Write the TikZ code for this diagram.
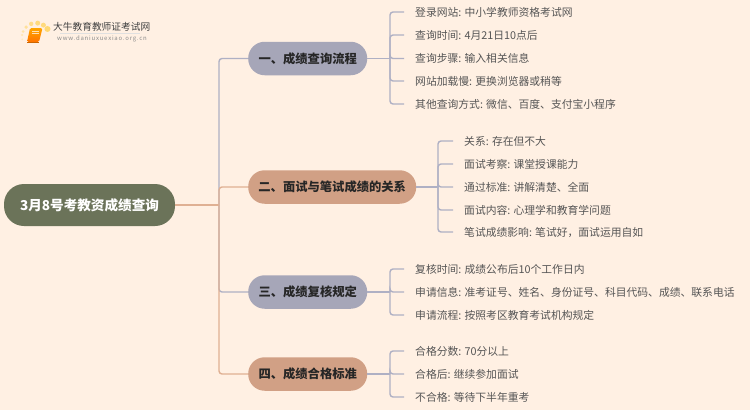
\documentclass[tikz,border=0pt]{standalone}
\usepackage{fontspec}
\setmainfont{Noto Sans CJK SC}
\definecolor{bgc}{HTML}{FFF0E3}
\definecolor{bluec}{HTML}{A6A6B8}
\definecolor{bluel}{HTML}{AFB0C4}
\definecolor{orc}{HTML}{D1A085}
\definecolor{orl}{HTML}{DFB093}
\definecolor{rootc}{HTML}{6B7359}
\definecolor{leaft}{HTML}{555555}
\definecolor{sunc}{HTML}{FFD873}
\tikzset{
 rootbox/.style={fill=rootc,rounded corners=20pt,text=white,font=\fontsize{13.6}{16}\selectfont\bfseries,minimum width=171pt,minimum height=42pt,inner sep=0pt},
 branchbox/.style={rounded corners=16.5pt,text=black!85,font=\fontsize{12.3}{15}\selectfont\bfseries,minimum height=33.5pt,inner sep=0pt,anchor=west},
 blueb/.style={branchbox,fill=bluec},
 orb/.style={branchbox,fill=orc},
 leaf/.style={anchor=west,text=leaft,font=\fontsize{10.8}{13}\selectfont,inner ysep=0pt,inner xsep=0pt,text height=9.5pt,text depth=1.5pt},
 bl/.style={draw=bluel,line width=1.4pt,rounded corners=3pt},
 ol/.style={draw=orl,line width=1.4pt,rounded corners=3pt},
}
\begin{document}
\begin{tikzpicture}[x=1pt,y=-1pt]
\path[fill=bgc] (0,0) rectangle (750,410);
\useasboundingbox (0,0) rectangle (750,410);
% logo
\foreach \a/\r/\c in {190/1/.3,172/1.2/.4,157/1.5/.5,135/1.8/.65,110/2.2/.8,83/2.5/.9,58/2.5/.9,35/3/1}{
  \fill[sunc,opacity=\c] (36,37) ++(\a:14pt) circle (\r pt);
}
\path[top color=orange!70!yellow,bottom color=orange!90!red,rounded corners=1.5pt] (30,28) -- (42.5,28) -- (39,42) -- (27,42) -- cycle;
\path[draw=white,opacity=.7,line width=.5pt] (32,31.5) -- (39,31.5) (31.5,33.5) -- (38.5,33.5);
\path[draw=orange!80!black,line width=.8pt] (27,42) -- (39,42);
\path[draw=black!12,line width=.4pt] (60,33.5) -- (140,33.5);
\node[anchor=west,inner sep=0pt,text=black!75,font=\fontsize{9.7}{12}\selectfont] (logot) at (53,27) {大牛教育教师证考试网};
\node[anchor=west,inner sep=0pt,text=black!45,font=\fontsize{6}{7}\selectfont\addfontfeatures{LetterSpace=13}] (logos) at (57,39) {www.daniuxuexiao.org.cn};
% nodes
\node[rootbox] (root) at (89.5,205) {3月8号考教资成绩查询};
\node[blueb,minimum width=119pt] (b1) at (248,58.5) {一、成绩查询流程};
\node[orb,minimum width=168pt] (b2) at (248,187) {二、面试与笔试成绩的关系};
\node[blueb,minimum width=119pt] (b3) at (248,292) {三、成绩复核规定};
\node[orb,minimum width=119pt] (b4) at (248,374) {四、成绩合格标准};
\coordinate (t) at (219,205);
\coordinate (h1) at (390,58.5);
\coordinate (h2) at (438,187);
\coordinate (h3) at (390,292);
\coordinate (h4) at (390,374);
% leaves
\node[leaf] (a1) at (415,12) {登录网站: 中小学教师资格考试网};
\node[leaf] (a2) at (415,35) {查询时间: 4月21日10点后};
\node[leaf] (a3) at (415,58.5) {查询步骤: 输入相关信息};
\node[leaf] (a4) at (415,81) {网站加载慢: 更换浏览器或稍等};
\node[leaf] (a5) at (415,104) {其他查询方式: 微信、百度、支付宝小程序};
\node[leaf] (c1) at (464,141) {关系: 存在但不大};
\node[leaf] (c2) at (464,164) {面试考察: 课堂授课能力};
\node[leaf] (c3) at (464,187) {通过标准: 讲解清楚、全面};
\node[leaf] (c4) at (464,210) {面试内容: 心理学和教育学问题};
\node[leaf] (c5) at (464,232) {笔试成绩影响: 笔试好，面试运用自如};
\node[leaf] (d1) at (415,269) {复核时间: 成绩公布后10个工作日内};
\node[leaf] (d2) at (415,292) {申请信息: 准考证号、姓名、身份证号、科目代码、成绩、联系电话};
\node[leaf] (d3) at (415,315) {申请流程: 按照考区教育考试机构规定};
\node[leaf] (e1) at (415,351) {合格分数: 70分以上};
\node[leaf] (e2) at (415,374) {合格后: 继续参加面试};
\node[leaf] (e3) at (415,397) {不合格: 等待下半年重考};
% trunk connectors
\draw[bl] (t) |- (b1.west);
\draw[bl] (t) |- (b3.west);
\draw[ol] (root.east) -- (t);
\draw[ol] (t) |- (b2.west);
\draw[ol] (t) |- (b4.west);
% leaf connectors
\foreach \n in {a1,a2,a3,a4,a5}{\draw[bl,shorten >=11pt] (h1) |- (\n.west);}
\foreach \n in {c1,c2,c3,c4,c5}{\draw[bl,shorten >=11pt] (h2) |- (\n.west);}
\foreach \n in {d1,d2,d3}{\draw[bl,shorten >=11pt] (h3) |- (\n.west);}
\foreach \n in {e1,e2,e3}{\draw[bl,shorten >=11pt] (h4) |- (\n.west);}
\draw[bl] (b1.east) -- (h1);
\draw[bl] (b2.east) -- (h2);
\draw[bl] (b3.east) -- (h3);
\draw[bl] (b4.east) -- (h4);
\end{tikzpicture}
\end{document}
